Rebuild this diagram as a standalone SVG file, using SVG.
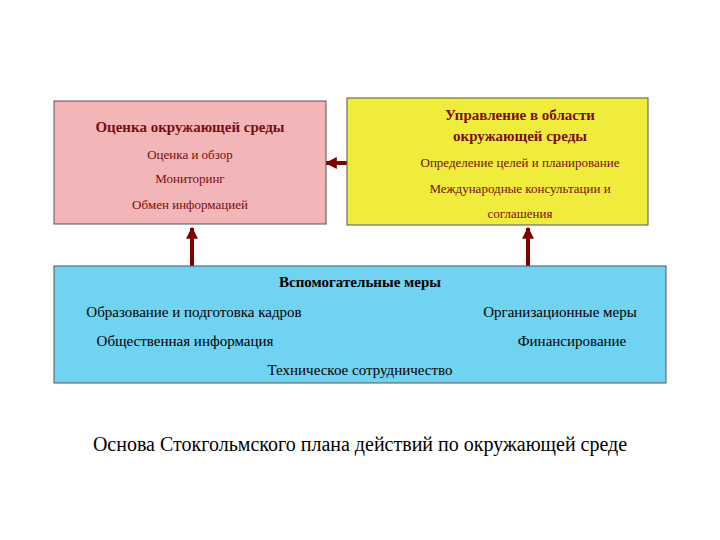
<svg xmlns="http://www.w3.org/2000/svg" width="720" height="540" viewBox="0 0 720 540">
<style>
text{font-family:"Liberation Serif",serif;text-anchor:middle}
.t{fill:#7a0c0c;font-size:15px;font-weight:bold}
.s{fill:#7a0c0c;font-size:13px}
.b{fill:#000;font-size:15px}
.c{stroke:#800000;stroke-width:4;fill:none}
</style>
<defs><marker id="a" viewBox="0 0 10 10" refX="9" refY="5" markerWidth="3" markerHeight="3" orient="auto-start-reverse"><path d="M0,0L10,5L0,10z" fill="#800000"/></marker></defs>
<rect width="720" height="540" fill="#fff"/>
<g id="connectors">
<line class="c" x1="326" y1="163" x2="386" y2="163" marker-start="url(#a)" marker-end="url(#a)"/>
<line class="c" x1="192" y1="266" x2="192" y2="228" marker-end="url(#a)"/>
<line class="c" x1="528" y1="266" x2="528" y2="228" marker-end="url(#a)"/>
</g>
<g id="assess">
<rect x="54" y="101" width="272" height="123" fill="#f2b6b8" stroke="#555"/>
<text class="t" x="190" y="132">Оценка окружающей среды</text>
<text class="s" x="190" y="159">Оценка и обзор</text>
<text class="s" x="190" y="183">Мониторинг</text>
<text class="s" x="190" y="209">Обмен информацией</text>
</g>
<g id="manage">
<rect x="347" y="98" width="301" height="127" fill="#efec3c" stroke="#555"/>
<text class="t" x="520" y="120">Управление в области</text>
<text class="t" x="520" y="141">окружающей среды</text>
<text class="s" x="520" y="167">Определение целей и планирование</text>
<text class="s" x="520" y="193">Международные консультации и</text>
<text class="s" x="520" y="218">соглашения</text>
</g>
<g id="support">
<rect x="54" y="266" width="612" height="117" fill="#6fd3f1" stroke="#555"/>
<text class="b" x="360" y="287" font-weight="bold">Вспомогательные меры</text>
<text class="b" x="194" y="317">Образование и подготовка кадров</text>
<text class="b" x="560" y="317">Организационные меры</text>
<text class="b" x="185" y="346">Общественная информация</text>
<text class="b" x="572" y="346">Финансирование</text>
<text class="b" x="360" y="375">Техническое сотрудничество</text>
</g>
<text x="360" y="451" style="font-size:20px;fill:#000">Основа Стокгольмского плана действий по окружающей среде</text>
</svg>
